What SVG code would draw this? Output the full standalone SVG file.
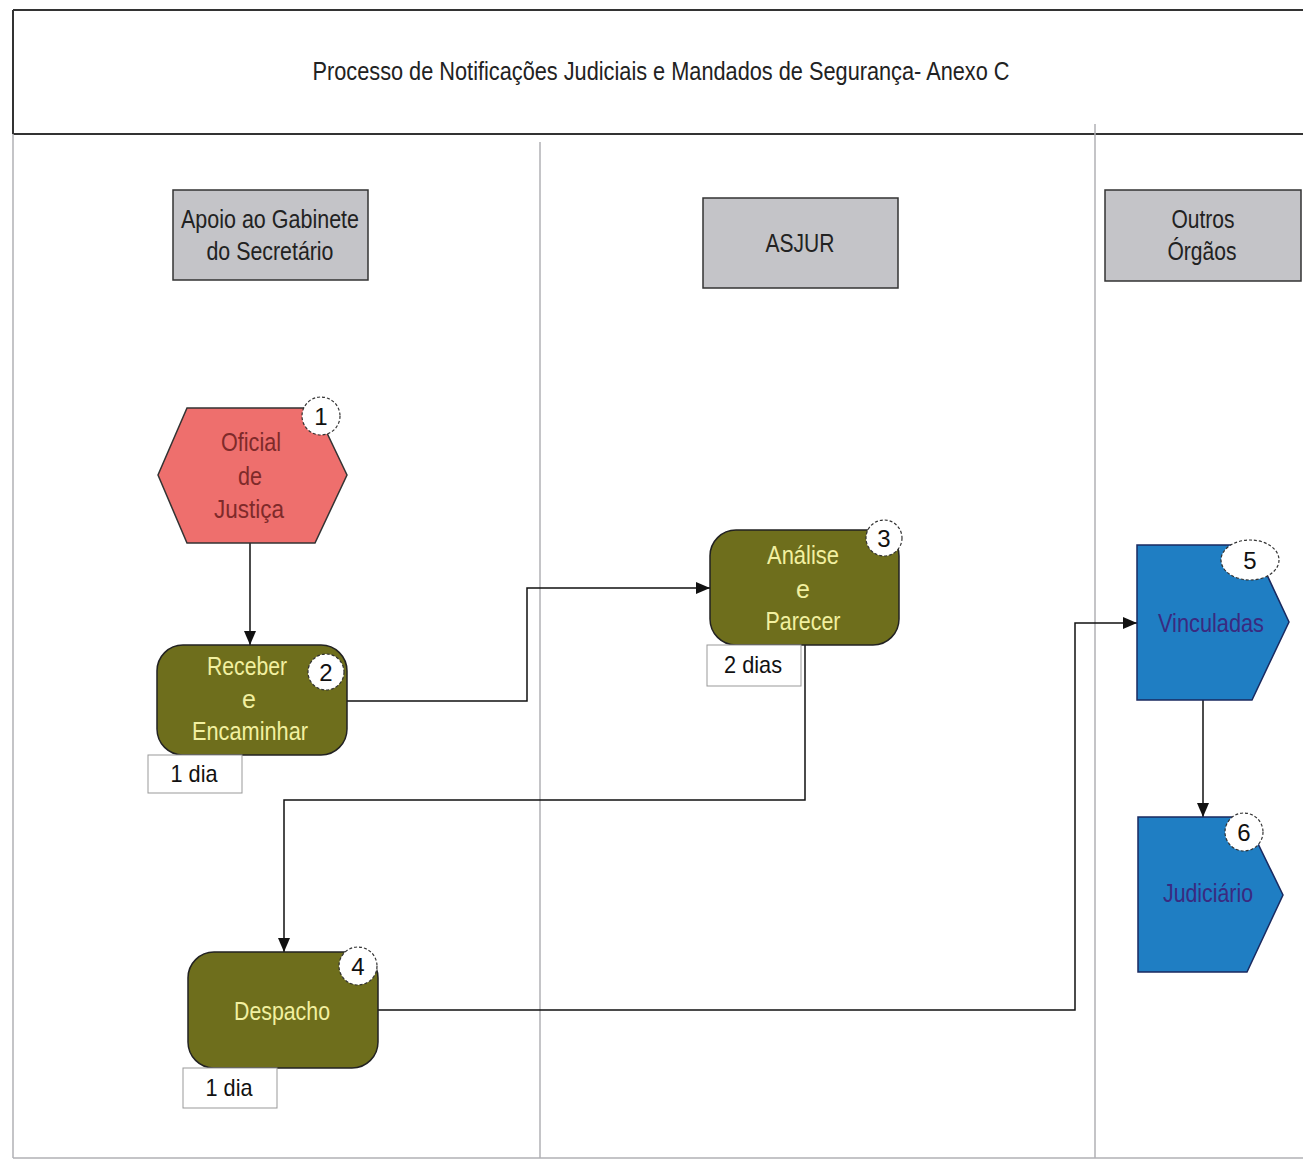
<svg xmlns="http://www.w3.org/2000/svg" width="1303" height="1174" viewBox="0 0 1303 1174">
<style>
text{font-family:"Liberation Sans",Arial,sans-serif;}
.hdr{fill:#c4c4c8;stroke:#333;stroke-width:1.5;}
.ht{font-size:25px;fill:#222;text-anchor:middle;}
.olive{fill:#6e6e1c;stroke:#222;stroke-width:1.5;}
.ot{font-size:25px;fill:#f2f0a0;text-anchor:middle;}
.blue{fill:#1f7ec3;stroke:#1a2a60;stroke-width:1.5;}
.bt{font-size:25px;fill:#3a2a80;text-anchor:middle;}
.num{fill:#fff;stroke:#333;stroke-width:1.2;stroke-dasharray:3 2;}
.nt{font-size:24px;fill:#111;text-anchor:middle;}
.dur{fill:#fff;stroke:#999;stroke-width:1;}
.dt{font-size:24px;fill:#111;text-anchor:middle;}
.lane{stroke:#b0b0b4;stroke-width:1.5;fill:none;}
.conn{stroke:#111;stroke-width:1.5;fill:none;marker-end:url(#arr);}
</style>
<defs>
<marker id="arr" viewBox="0 0 14 12" refX="14" refY="6" markerWidth="14" markerHeight="12" markerUnits="userSpaceOnUse" orient="auto">
<path d="M0,0 L14,6 L0,12 z" fill="#111"/>
</marker>
</defs>
<rect width="1303" height="1174" fill="#fff"/>
<g id="frame">
<line x1="13" y1="10" x2="1303" y2="10" stroke="#333" stroke-width="2"/>
<line x1="13" y1="134" x2="1303" y2="134" stroke="#333" stroke-width="2"/>
<line x1="13" y1="10" x2="13" y2="134" stroke="#333" stroke-width="2"/>
<line class="lane" x1="13" y1="134" x2="13" y2="1158"/>
<line class="lane" x1="13" y1="1158" x2="1303" y2="1158" stroke="#999" stroke-width="2"/>
<line class="lane" x1="540" y1="142" x2="540" y2="1158"/>
<line class="lane" x1="1095" y1="124" x2="1095" y2="1158"/>
<text x="661" y="80" font-size="25" fill="#222" text-anchor="middle" textLength="697" lengthAdjust="spacingAndGlyphs">Processo de Notificações Judiciais e Mandados de Segurança- Anexo C</text>
</g>
<g id="lane-apoio">
<rect class="hdr" x="173" y="190" width="195" height="90"/>
<text class="ht" x="270" y="228" textLength="178" lengthAdjust="spacingAndGlyphs">Apoio ao Gabinete</text>
<text class="ht" x="270" y="260" textLength="127" lengthAdjust="spacingAndGlyphs">do Secretário</text>
</g>
<g id="lane-asjur">
<rect class="hdr" x="703" y="198" width="195" height="90"/>
<text class="ht" x="800" y="252" textLength="69" lengthAdjust="spacingAndGlyphs">ASJUR</text>
</g>
<g id="lane-outros">
<rect class="hdr" x="1105" y="190" width="196" height="91"/>
<text class="ht" x="1203" y="228" textLength="63" lengthAdjust="spacingAndGlyphs">Outros</text>
<text class="ht" x="1202" y="260" textLength="69" lengthAdjust="spacingAndGlyphs">Órgãos</text>
</g>
<g id="connectors">
<path class="conn" d="M250,543 L250,645"/>
<path class="conn" d="M347,701 L527,701 L527,588 L710,588"/>
<path class="conn" d="M805,645 L805,800 L284,800 L284,952"/>
<path class="conn" d="M378,1010 L1075,1010 L1075,623 L1137,623"/>
<path class="conn" d="M1203,700 L1203,817"/>
</g>
<g id="n1">
<polygon points="187,408 315,408 347,475 315,543 187,543 158,475" fill="#ee6f6d" stroke="#333" stroke-width="1.5"/>
<text x="251" y="451" font-size="25" fill="#7e2a2a" text-anchor="middle" textLength="60" lengthAdjust="spacingAndGlyphs">Oficial</text>
<text x="250" y="485" font-size="25" fill="#7e2a2a" text-anchor="middle" textLength="24" lengthAdjust="spacingAndGlyphs">de</text>
<text x="249" y="518" font-size="25" fill="#7e2a2a" text-anchor="middle" textLength="70" lengthAdjust="spacingAndGlyphs">Justiça</text>
<circle class="num" cx="321" cy="416" r="19"/>
<text class="nt" x="321" y="425">1</text>
</g>
<g id="n2">
<rect class="olive" x="157" y="645" width="190" height="110" rx="26"/>
<text class="ot" x="247" y="675" textLength="80" lengthAdjust="spacingAndGlyphs">Receber</text>
<text class="ot" x="249" y="708">e</text>
<text class="ot" x="250" y="740" textLength="116" lengthAdjust="spacingAndGlyphs">Encaminhar</text>
<circle class="num" cx="326" cy="672" r="18"/>
<text class="nt" x="326" y="681">2</text>
<rect class="dur" x="148" y="755" width="94" height="38"/>
<text class="dt" x="194" y="782" textLength="47" lengthAdjust="spacingAndGlyphs">1 dia</text>
</g>
<g id="n3">
<rect class="olive" x="710" y="530" width="189" height="115" rx="26"/>
<text class="ot" x="803" y="564" textLength="72" lengthAdjust="spacingAndGlyphs">Análise</text>
<text class="ot" x="803" y="598">e</text>
<text class="ot" x="803" y="630" textLength="75" lengthAdjust="spacingAndGlyphs">Parecer</text>
<circle class="num" cx="884" cy="538" r="18"/>
<text class="nt" x="884" y="547">3</text>
<rect class="dur" x="707" y="645" width="94" height="41"/>
<text class="dt" x="753" y="673" textLength="58" lengthAdjust="spacingAndGlyphs">2 dias</text>
</g>
<g id="n4">
<rect class="olive" x="188" y="952" width="190" height="116" rx="26"/>
<text class="ot" x="282" y="1020" textLength="96" lengthAdjust="spacingAndGlyphs">Despacho</text>
<circle class="num" cx="358" cy="966" r="19"/>
<text class="nt" x="358" y="975">4</text>
<rect class="dur" x="183" y="1068" width="94" height="40"/>
<text class="dt" x="229" y="1096" textLength="47" lengthAdjust="spacingAndGlyphs">1 dia</text>
</g>
<g id="n5">
<polygon class="blue" points="1137,545 1253,545 1289,622 1252,700 1137,700"/>
<text class="bt" x="1211" y="632" textLength="106" lengthAdjust="spacingAndGlyphs">Vinculadas</text>
<ellipse class="num" cx="1250" cy="560" rx="29" ry="20"/>
<text class="nt" x="1250" y="569">5</text>
</g>
<g id="n6">
<polygon class="blue" points="1138,817 1245,817 1283,895 1247,972 1138,972"/>
<text class="bt" x="1208" y="902" textLength="90" lengthAdjust="spacingAndGlyphs">Judiciário</text>
<circle class="num" cx="1244" cy="832" r="19"/>
<text class="nt" x="1244" y="841">6</text>
</g>
</svg>
